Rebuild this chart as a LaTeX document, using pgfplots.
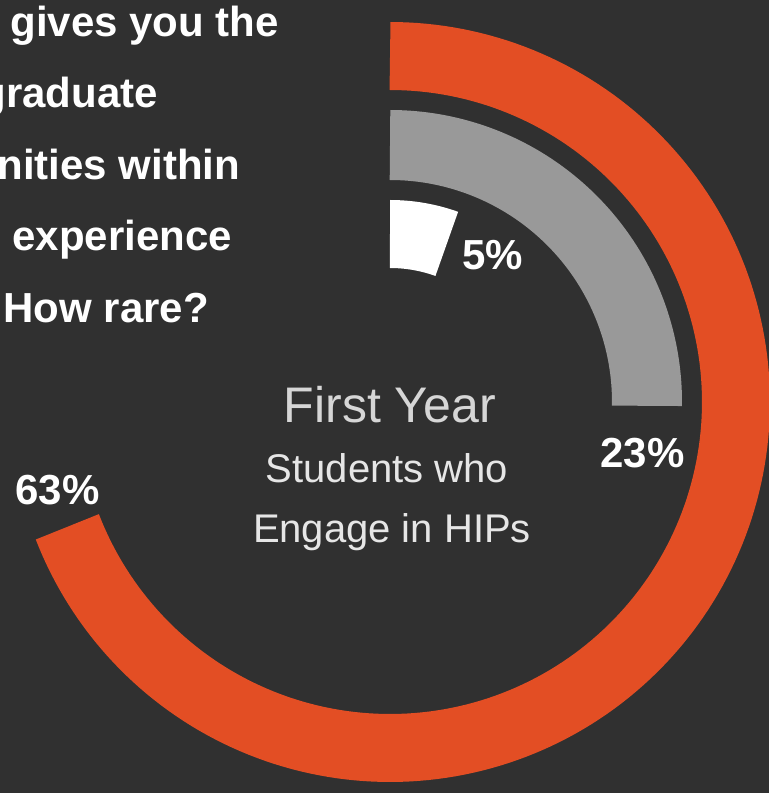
\documentclass[border=0pt]{standalone}
\usepackage{pgfplots}
\pgfplotsset{compat=1.18}
\usepackage{fontspec}
\setmainfont{Liberation Sans}
\definecolor{bg}{HTML}{303030}
\definecolor{ringorange}{HTML}{E34E24}
\definecolor{ringgray}{HTML}{999999}
\definecolor{titlegray}{HTML}{D6D6D6}
\definecolor{subgray}{HTML}{E6E6E6}
\begin{document}
\begin{tikzpicture}
\useasboundingbox (0,0) rectangle (384.5pt,396.5pt);
\clip (0,0) rectangle (384.5pt,396.5pt);
\fill[bg] (0,0) rectangle (384.5pt,396.5pt);
\begin{axis}[at={(0,0)}, anchor=south west, x=0.5pt, y=0.5pt, hide axis,
  xmin=-390, xmax=379, ymin=-391, ymax=402, clip=false]
% values: 63% (outer), 23% (middle), 5% (inner); 1% = 3.95 degrees
\addplot[ringorange, line width=34pt, line cap=butt, domain=90-63*3.95:90, samples=181, no markers] ({346*cos(x)},{346*sin(x)});
\addplot[ringgray, line width=35pt, line cap=butt, domain=90-23*3.95:90, samples=91, no markers] ({257*cos(x)},{257*sin(x)});
\addplot[white, line width=34pt, line cap=butt, domain=90-5*3.95:90, samples=31, no markers] ({168*cos(x)},{168*sin(x)});
% percentage labels
\node[anchor=base west, inner sep=0, white, font=\fontsize{21pt}{25pt}\selectfont\bfseries] at (axis cs:72,132) {5\%};
\node[anchor=base west, inner sep=0, white, font=\fontsize{21pt}{25pt}\selectfont\bfseries] at (axis cs:210,-66) {23\%};
\node[anchor=base west, inner sep=0, white, font=\fontsize{21pt}{25pt}\selectfont\bfseries] at (axis cs:-375,-103) {63\%};
% centre text
\node[anchor=base, inner sep=0, titlegray, font=\fontsize{25pt}{29pt}\selectfont] at (axis cs:0,-21) {First Year};
\node[anchor=base, inner sep=0, subgray, font=\fontsize{20pt}{24pt}\selectfont] at (axis cs:-3,-81) {Students who};
\node[anchor=base, inner sep=0, subgray, font=\fontsize{20pt}{24pt}\selectfont] at (axis cs:2,-141) {Engage in HIPs};
% cropped text at top left
\node[anchor=base west, inner sep=0, white, font=\fontsize{21pt}{25pt}\selectfont\bfseries] at (axis cs:-380,365) {gives you the};
\node[anchor=base west, inner sep=0, white, font=\fontsize{21pt}{25pt}\selectfont\bfseries] at (axis cs:-410,294) {graduate};
\node[anchor=base west, inner sep=0, white, font=\fontsize{21pt}{25pt}\selectfont\bfseries] at (axis cs:-393,222) {nities within};
\node[anchor=base west, inner sep=0, white, font=\fontsize{21pt}{25pt}\selectfont\bfseries] at (axis cs:-378,151) {experience};
\node[anchor=base west, inner sep=0, white, font=\fontsize{21pt}{25pt}\selectfont\bfseries] at (axis cs:-387,79) {How rare?};
\end{axis}
\end{tikzpicture}
\end{document}
